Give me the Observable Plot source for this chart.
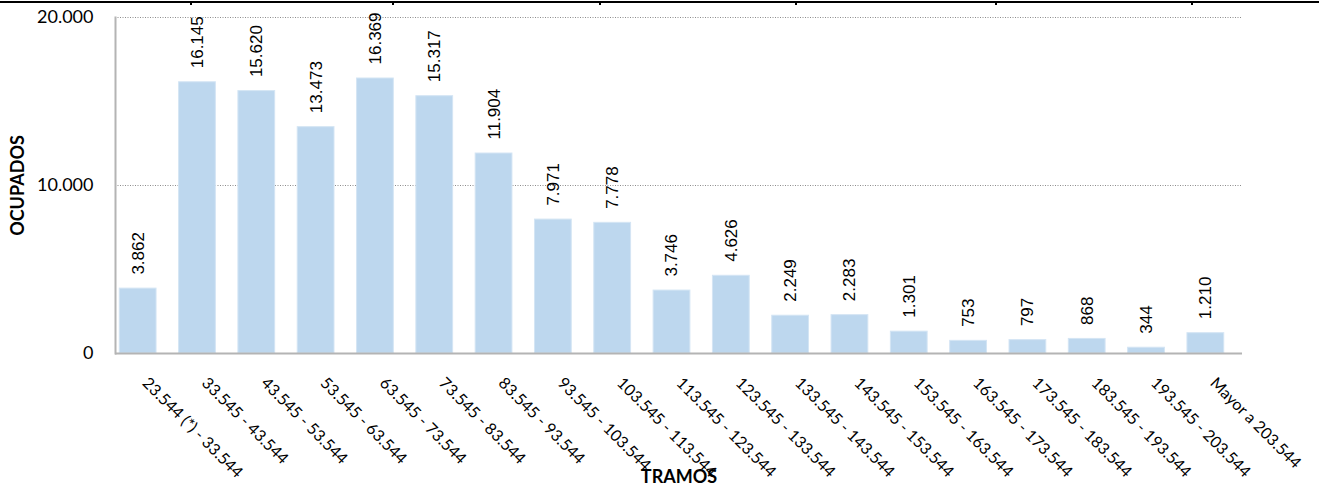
<!DOCTYPE html>
<html><head><meta charset="utf-8">
<script src="https://cdn.jsdelivr.net/npm/d3@7"></script>
<script src="https://cdn.jsdelivr.net/npm/@observablehq/plot@0.6"></script>
<style>
body{margin:0;background:#fff;}
#wrap{position:relative;width:1319px;height:488px;overflow:hidden;}
#topline{position:absolute;left:0;top:1px;width:1319px;height:0;border-top:2.5px solid #000;z-index:2;}
.tk{position:absolute;top:1px;width:2px;height:4px;background:#000;z-index:2;}
svg{display:block;}
</style></head><body>
<div id="wrap"><div id="topline"></div>
<div class="tk" style="left:190px"></div><div class="tk" style="left:392px"></div><div class="tk" style="left:599px"></div>
<div class="tk" style="left:795px"></div><div class="tk" style="left:995px"></div><div class="tk" style="left:1191px"></div>
</div>
<script>
const tramos = ["23.544 (*) - 33.544","33.545 - 43.544","43.545 - 53.544","53.545 - 63.544","63.545 - 73.544","73.545 - 83.544","83.545 - 93.544","93.545 - 103.544","103.545 - 113.544","113.545 - 123.544","123.545 - 133.544","133.545 - 143.544","143.545 - 153.544","153.545 - 163.544","163.545 - 173.544","173.545 - 183.544","183.545 - 193.544","193.545 - 203.544","Mayor a 203.544"];
const ocupados = [3862,16145,15620,13473,16369,15317,11904,7971,7778,3746,4626,2249,2283,1301,753,797,868,344,1210];
const yTicks = [0,10000,20000];
const xTitle = ["TRAMOS"];
const yTitle = ["OCUPADOS"];

const data = tramos.map((t,i)=>({tramo:t, ocupados:ocupados[i]}));
const es = d3.formatLocale({decimal:",", thousands:".", grouping:[3], currency:["","€"]});
const fmt = es.format(",.0f");

const chart = Plot.plot({
  width:1319, height:488,
  marginTop:17, marginBottom:135, marginLeft:115, marginRight:77,
  style:{fontFamily:"Lato", background:"white", color:"#000", overflow:"visible"},
  x:{domain:tramos, range:[108,1235], paddingInner:0.38, paddingOuter:0.19, round:false, label:null},
  y:{domain:[0,20000], label:null},
  marks:[
    Plot.gridY(yTicks.slice(1), {stroke:"#8c8c8c", strokeOpacity:1, strokeDasharray:"1,1.5", strokeWidth:1}),
    Plot.barY(data, {x:"tramo", y:"ocupados", fill:"#BDD7EE", stroke:"#D4E5F4", strokeWidth:1}),
    Plot.ruleY([0], {stroke:"#B4B4B4", strokeWidth:2}),
    Plot.frame({anchor:"left", stroke:"#B4B4B4", strokeWidth:2}),
    Plot.axisY(yTicks, {tickSize:0, tickPadding:22, fontSize:18, tickFormat:fmt, label:null}),
    Plot.axisX({tickSize:0, tickRotate:45, tickPadding:27, dx:7, fontSize:16, label:null}),
    Plot.text(data, {x:"tramo", y:"ocupados", text:d=>fmt(d.ocupados), rotate:-90, textAnchor:"start", dy:-14, fontSize:17, fontFamily:"Liberation Sans", fill:"#000"}),
    Plot.text(xTitle, {text:d=>d, frameAnchor:"bottom", dy:124, lineAnchor:"middle", textAnchor:"middle", fontSize:18, fontWeight:"bold", fill:"#000"}),
    Plot.text(yTitle, {text:d=>d, frameAnchor:"left", dx:-97, rotate:-90, lineAnchor:"middle", textAnchor:"middle", fontSize:18, fontWeight:"bold", fill:"#000"})
  ]
});
document.getElementById("wrap").appendChild(chart);
</script>
</body></html>
